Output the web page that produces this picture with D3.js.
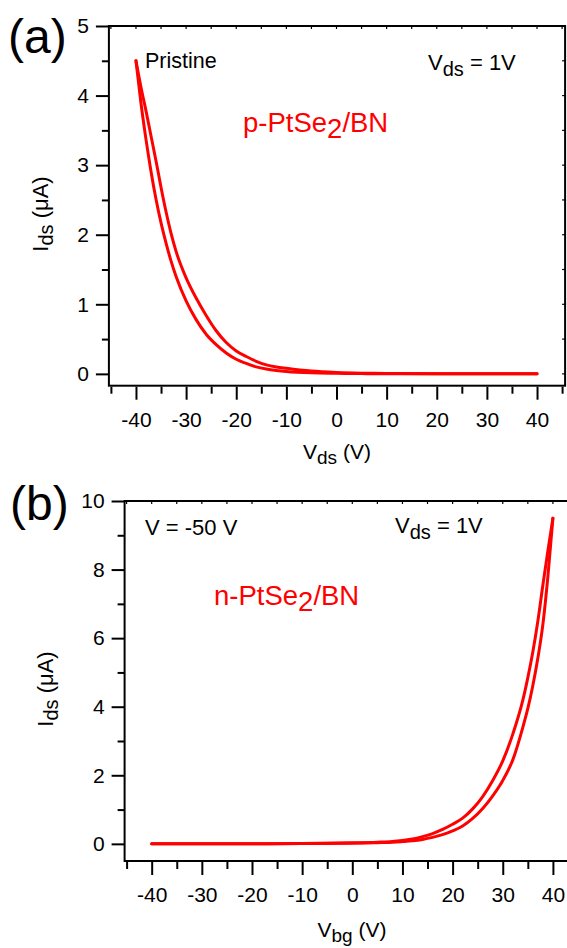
<!DOCTYPE html>
<html><head><meta charset="utf-8">
<script src="https://cdn.jsdelivr.net/npm/d3@7"></script>
<style>
html,body{margin:0;padding:0;background:#fff;overflow:hidden}
svg{display:block}
text{font-family:"Liberation Sans",Arial,Helvetica,sans-serif;fill:#000}
</style></head><body>
<svg id="chart" width="567" height="948"></svg>
<script>
// Panel (a): p-PtSe2/BN, Ids vs Vds, two sweep branches
const vA = [-40,-39,-38,-37,-36,-35,-34,-33,-32,-30,-28,-26,-24,-22,-20,-18,-16,-14,-12,-10,-5,0,5,10,20,30,40];
const idsAInner = [4.50,3.89,3.37,2.91,2.51,2.17,1.88,1.62,1.40,1.05,0.78,0.57,0.42,0.30,0.21,0.15,0.10,0.07,0.05,0.035,0.015,0.008,0.004,0.002,0.001,0,0];
const idsAOuter = [4.50,4.12,3.78,3.42,3.06,2.68,2.33,2.02,1.76,1.38,1.09,0.84,0.62,0.45,0.33,0.25,0.18,0.13,0.10,0.08,0.04,0.02,0.01,0.006,0.002,0.001,0];

// Panel (b): n-PtSe2/BN, Ids vs Vbg, two sweep branches
const vB = [-40,-30,-20,-10,0,5,8,10,12,14,16,18,20,22,24,26,28,30,32,34,35,36,37,38,39,40];
const idsBLeft = [0,0,0.005,0.01,0.03,0.05,0.07,0.10,0.14,0.21,0.30,0.42,0.57,0.75,1.02,1.38,1.85,2.42,3.20,4.19,4.85,5.60,6.50,7.55,8.55,9.50];
const idsBRight = [0,0,0.003,0.008,0.02,0.035,0.045,0.065,0.09,0.13,0.19,0.27,0.38,0.52,0.74,1.03,1.40,1.85,2.45,3.40,3.95,4.62,5.42,6.40,7.80,9.50];

// Tick values
const xMajor = [-40,-30,-20,-10,0,10,20,30,40];
const xMinor = [-45,-35,-25,-15,-5,5,15,25,35,45];
const xMirror = [-45,-40,-35,-30,-25,-20,-15,-10,-5,0,5,10,15,20,25,30,35,40,45];
const yMajorA = [0,1,2,3,4,5];
const yMinorA = [0.5,1.5,2.5,3.5,4.5];
const yMajorB = [0,2,4,6,8,10];
const yMinorB = [1,3,5,7,9];

const RED = "#ff0000";
const svg = d3.select("#chart");

// text with sub/baseline-shifted pieces
function subText(g, x, y, parts, opts) {
  const t = g.append("text").attr("x", x).attr("y", y)
    .attr("font-size", opts.size).attr("text-anchor", opts.anchor || "start")
    .style("fill", opts.color || "#000");
  if (opts.transform) t.attr("transform", opts.transform);
  let shift = 0;
  parts.forEach(p => {
    const s = t.append("tspan").text(p.t);
    const want = p.dy || 0;
    if (want !== shift) { s.attr("dy", want - shift); shift = want; }
    if (p.size) s.attr("font-size", p.size);
  });
  return t;
}

const plainNum = d => String(d);

function panel(cfg) {
  const g = svg.append("g");
  const x = d3.scaleLinear().domain([-45.4, 45.6]).range(cfg.xRange);
  const y = d3.scaleLinear().domain(cfg.yDomain).range(cfg.yRange);
  const [x0, x1] = cfg.xRange, [yb, yt] = cfg.yRange;

  // frame
  g.append("rect").attr("x", x0).attr("y", yt).attr("width", x1 - x0).attr("height", yb - yt)
    .attr("fill", "none").attr("stroke", "#000").attr("stroke-width", 2);

  // inner mirror ticks on top and right
  g.append("g").selectAll("line").data(xMirror).join("line")
    .attr("x1", d => x(d)).attr("x2", d => x(d)).attr("y1", yt).attr("y2", yt + 3)
    .attr("stroke", "#000").attr("stroke-width", 1.2);
  g.append("g").selectAll("line").data(cfg.yMirror).join("line")
    .attr("x1", x1).attr("x2", x1 - 3).attr("y1", d => y(d)).attr("y2", d => y(d))
    .attr("stroke", "#000").attr("stroke-width", 1.2);

  const styleAxis = sel => {
    sel.select(".domain").remove();
    sel.selectAll(".tick line").attr("stroke", "#000").attr("stroke-width", 2);
    sel.selectAll("text").attr("font-size", 21).attr("font-family", null).style("fill", "#000");
  };

  // bottom axis
  g.append("g").attr("transform", `translate(0,${yb + 1})`)
    .call(d3.axisBottom(x).tickValues(xMajor).tickSize(13).tickPadding(12).tickFormat(plainNum))
    .call(styleAxis);
  g.append("g").attr("transform", `translate(0,${yb + 1})`)
    .call(d3.axisBottom(x).tickValues(xMinor).tickSize(7).tickFormat(""))
    .call(styleAxis);

  // left axis
  g.append("g").attr("transform", `translate(${x0},0)`)
    .call(d3.axisLeft(y).tickValues(cfg.yMajor).tickSize(13).tickPadding(7).tickFormat(plainNum))
    .call(styleAxis);
  g.append("g").attr("transform", `translate(${x0},0)`)
    .call(d3.axisLeft(y).tickValues(cfg.yMinor).tickSize(7).tickFormat(""))
    .call(styleAxis);

  // curves
  const line = d3.line().x(d => x(d[0])).y(d => y(d[1])).curve(d3.curveMonotoneX);
  cfg.series.forEach(vals => {
    g.append("path").datum(cfg.v.map((v, i) => [v, vals[i]]))
      .attr("d", line).attr("fill", "none").attr("stroke", RED)
      .attr("stroke-width", 3).attr("stroke-linejoin", "round").attr("stroke-linecap", "round");
  });
  return { g, x, y };
}

panel({
  xRange: [108.9, 565.1], yRange: [385.7, 26], yDomain: [-0.17, 5],
  yMajor: yMajorA, yMinor: yMinorA, yMirror: [0,0.5,1,1.5,2,2.5,3,3.5,4,4.5],
  v: vA, series: [idsAInner, idsAOuter]
});
panel({
  xRange: [124.6, 581], yRange: [861, 501], yDomain: [-0.5, 10],
  yMajor: yMajorB, yMinor: yMinorB, yMirror: [1,2,3,4,5,6,7,8,9],
  v: vB, series: [idsBLeft, idsBRight]
});

// panel letters
svg.append("text").attr("x", 8).attr("y", 53).attr("font-size", 48).text("(a)");
svg.append("text").attr("x", 10).attr("y", 520).attr("font-size", 48).text("(b)");

// axis titles
subText(svg, 337, 459, [{t:"V"},{t:"ds",dy:5,size:19},{t:" (V)",dy:0}], {size:21, anchor:"middle"});
subText(svg, 352, 937, [{t:"V"},{t:"bg",dy:5,size:19},{t:" (V)",dy:0}], {size:21, anchor:"middle"});
subText(svg, 0, 0, [{t:"I"},{t:"ds",dy:5,size:20},{t:" (\u03bcA)",dy:0}], {size:22, anchor:"middle", transform:"translate(48,214) rotate(-90)"});
subText(svg, 0, 0, [{t:"I"},{t:"ds",dy:5,size:20},{t:" (\u03bcA)",dy:0}], {size:22, anchor:"middle", transform:"translate(53,689) rotate(-90)"});

// annotations, panel (a)
svg.append("text").attr("x", 145).attr("y", 68).attr("font-size", 21.5).text("Pristine");
subText(svg, 428, 70, [{t:"V"},{t:"ds",dy:6,size:20},{t:" = 1V",dy:0}], {size:22});
subText(svg, 243, 132, [{t:"p-PtSe"},{t:"2",dy:6},{t:"/BN",dy:0}], {size:27.5, color:RED});

// annotations, panel (b)
svg.append("text").attr("x", 145).attr("y", 535).attr("font-size", 22).text("V = -50 V");
subText(svg, 395, 533, [{t:"V"},{t:"ds",dy:6,size:20},{t:" = 1V",dy:0}], {size:22});
subText(svg, 214, 605, [{t:"n-PtSe"},{t:"2",dy:6},{t:"/BN",dy:0}], {size:27.5, color:RED});
</script>
</body></html>
